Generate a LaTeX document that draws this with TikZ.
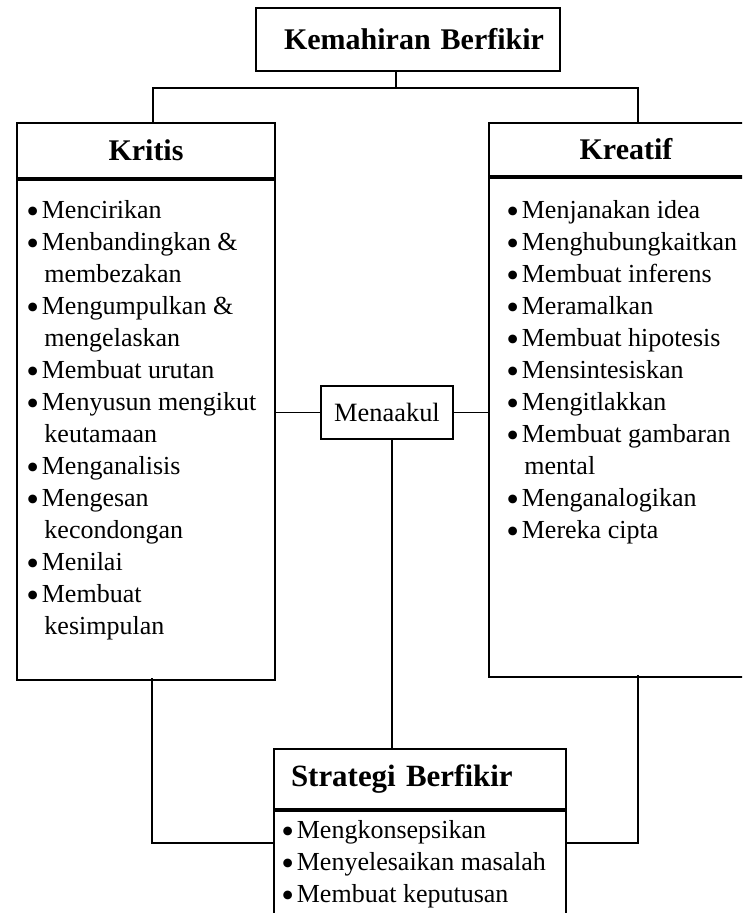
\documentclass[tikz,border=0pt]{standalone}
\usepackage{fontspec}
\usepackage{graphicx}
\setmainfont{Liberation Serif}
\usetikzlibrary{positioning}
\tikzset{
  frame/.style={draw,line width=1.35pt,inner sep=0pt,align=center},
  headbox/.style={frame,font=\fontsize{22.5}{27}\selectfont\bfseries},
  items/.style={anchor=north west,inner sep=0pt,align=left,
    font=\fontsize{19.5}{24}\selectfont},
  link/.style={line width=1.35pt}
}
\newcommand{\pt}{\makebox[0.45em][l]{\raisebox{-0.2em}{\scalebox{1.4}{\textbullet}}}\hspace{0.15em}}
\newcommand{\cont}{\hspace*{0.7em}}

\begin{document}
\begin{tikzpicture}[x=0.75pt,y=-0.75pt]
\useasboundingbox (0,0) rectangle (742,913);
\clip (0,0) rectangle (742,913);
% ---------------- heading ----------------
\node[headbox,minimum width=228pt,minimum height=47.25pt,text width=204pt,
  align=right] (kemahiran) at (408,39.5) {Kemahiran Berfikir};
% ---------------- Kritis ----------------
\node[headbox,minimum width=193.5pt,minimum height=41.25pt] (kritis)
  at (146,150.5) {Kritis};
\node[frame,minimum width=193.5pt,minimum height=375pt,below=0pt of kritis]
  (kritislist) {};
\node[items] (kritisitems) at (26,200) {\pt Mencirikan\\
  \pt Menbandingkan \&\\ \cont membezakan\\
  \pt Mengumpulkan \&\\ \cont mengelaskan\\
  \pt Membuat urutan\\
  \pt Menyusun mengikut\\ \cont keutamaan\\
  \pt Menganalisis\\
  \pt Mengesan\\ \cont kecondongan\\
  \pt Menilai\\
  \pt Membuat\\ \cont kesimpulan};
% ---------------- Kreatif ----------------
\node[headbox,minimum width=205.5pt,minimum height=39.75pt] (kreatif)
  at (626,149.5) {Kreatif};
\node[frame,minimum width=205.5pt,minimum height=374.25pt,below=0pt of kreatif]
  (kreatiflist) {};
\node[items] (kreatifitems) at (506,200) {\pt Menjanakan idea\\
  \pt Menghubungkaitkan\\
  \pt Membuat inferens\\
  \pt Meramalkan\\
  \pt Membuat hipotesis\\
  \pt Mensintesiskan\\
  \pt Mengitlakkan\\
  \pt Membuat gambaran\\ \cont mental\\
  \pt Menganalogikan\\
  \pt Mereka cipta};
% ---------------- Menaakul ----------------
\node[frame,font=\fontsize{19.8}{24}\selectfont,minimum width=99pt,
  minimum height=39.75pt] (menaakul) at (387,412.5) {Menaakul};
% ---------------- Strategi Berfikir ----------------
\node[headbox,minimum width=219pt,minimum height=45pt,text width=193.5pt,
  align=left,font=\fontsize{23.2}{27}\selectfont\bfseries] (strategi)
  at (420,779) {Strategi Berfikir};
\node[frame,minimum width=219pt,minimum height=113.25pt,below=0pt of strategi]
  (strategilist) {};
\node[items] (strategiitems) at (281,820) {\pt Mengkonsepsikan\\
  \pt Menyelesaikan masalah\\
  \pt Membuat keputusan};
% ---------------- connectors ----------------
\coordinate (bus) at (395.6,88);
\coordinate (kritis-in) at (153,123);
\coordinate (kreatif-in) at (638,123);
\coordinate (menaakul-out) at (392,439);
\coordinate (kritis-out) at (152,678);
\coordinate (kreatif-out) at (638,675);
\coordinate (strategi-l) at (274,843);
\coordinate (strategi-r) at (566,843);
\draw[link] (bus) -- (bus |- kemahiran.south);
\draw[link] (kritis-in) |- (bus) -| (kreatif-in);
\draw[link] (kritislist.east |- menaakul) -- (menaakul.west);
\draw[link] (menaakul.east) -- (menaakul.east -| kreatiflist.west);
\draw[link] (menaakul-out) -- (menaakul-out |- strategi.north);
\draw[link] (kritis-out) |- (strategi-l);
\draw[link] (kreatif-out) |- (strategi-r);
\end{tikzpicture}
\end{document}
